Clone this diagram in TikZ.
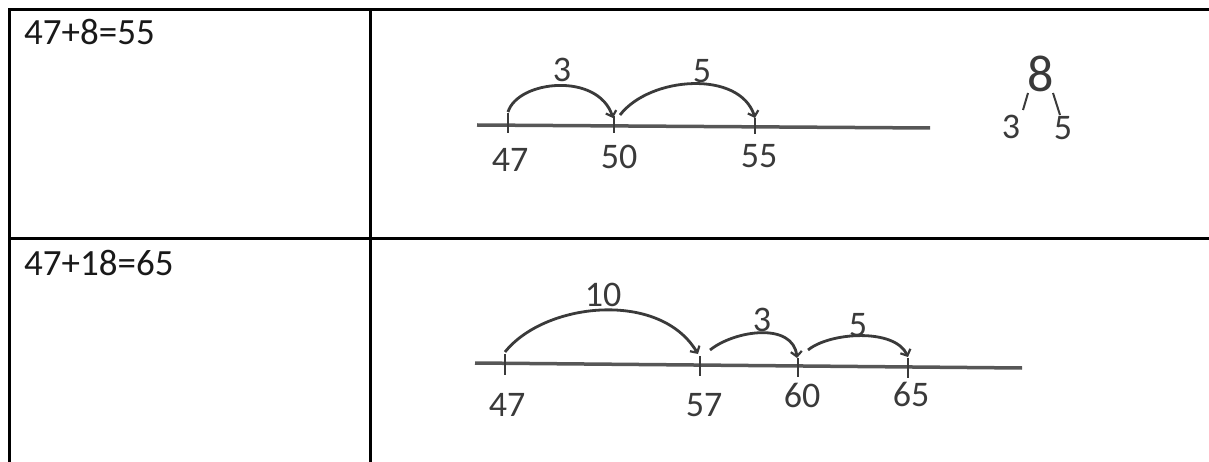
\documentclass[tikz,border=0pt]{standalone}
\usepackage{fontspec}
\setmainfont{Carlito}
\usetikzlibrary{arrows.meta}
\definecolor{pen}{HTML}{3A3A3A}
\begin{document}
\begin{tikzpicture}[x=1pt,y=-1pt,
  grid/.style={line width=3pt,black},
  eq/.style={anchor=base west,inner sep=0pt,font=\fontsize{37}{42}\selectfont,text=black!90},
  hand/.style={inner sep=0pt,font=\fontsize{36}{40}\selectfont,text=pen},
  axis/.style={line width=3.5pt,pen!85},
  tickmark/.style={line width=2pt,pen},
  jump/.style={line width=2.8pt,pen,-{Straight Barb[length=5pt,width=11pt,line width=2.2pt]}},
  bondline/.style={line width=2pt,pen}]
\useasboundingbox (0,0) rectangle (1209,462);

% table
\draw[grid] (8,10) -- (1209,10);
\draw[grid] (8,239) -- (1209,239);
\draw[grid] (9.5,8.5) -- (9.5,462);
\draw[grid] (370,8.5) -- (370,462);

\node[eq] (eq1) at (24,45) {47+8=55};
\node[eq] (eq2) at (24,275) {47+18=65};

% ---------- number line 1 ----------
\coordinate (A1) at (477,125);
\coordinate (B1) at (930,128);
\draw[axis] (A1) -- (B1);
\coordinate (t47a) at (508,113); \coordinate (t47b) at (508,133);
\coordinate (t50a) at (614,116); \coordinate (t50b) at (614,133);
\coordinate (t55a) at (755,118); \coordinate (t55b) at (755,134);
\draw[tickmark] (t47a) -- (t47b);
\draw[tickmark] (t50a) -- (t50b);
\draw[tickmark] (t55a) -- (t55b);

\coordinate (s1) at (508,112);
\coordinate (e1) at (613,118);
\coordinate (s2) at (620,115);
\coordinate (e2) at (755,118);
\draw[jump] (s1) .. controls (518,80) and (598,72) .. (e1);
\draw[jump] (s2) .. controls (650,76) and (740,70) .. (e2);

\node[hand] (j1) at (562,70) {3};
\node[hand] (j2) at (702,71) {5};
\node[hand] (n47a) at (510,160) {47};
\node[hand] (n50) at (619,157) {50};
\node[hand] (n55) at (759,156) {55};

% number bond
\node[hand,font=\fontsize{52}{56}\selectfont] (eight) at (1041,74) {8};
\node[hand] (bthree) at (1011,127) {3};
\node[hand] (bfive) at (1063,128) {5};
\coordinate (bl1) at (1028,93); \coordinate (bl2) at (1023,110);
\coordinate (br1) at (1053,93); \coordinate (br2) at (1060,115);
\draw[bondline] (bl1) -- (bl2);
\draw[bondline] (br1) -- (br2);

% ---------- number line 2 ----------
\coordinate (A2) at (475,363);
\coordinate (B2) at (1022,368);
\draw[axis] (A2) -- (B2);
\coordinate (u47a) at (505,354); \coordinate (u47b) at (505,375);
\coordinate (u57a) at (700,356); \coordinate (u57b) at (700,376);
\coordinate (u60a) at (798,358); \coordinate (u60b) at (798,377);
\coordinate (u65a) at (908,358); \coordinate (u65b) at (908,378);
\draw[tickmark] (u47a) -- (u47b);
\draw[tickmark] (u57a) -- (u57b);
\draw[tickmark] (u60a) -- (u60b);
\draw[tickmark] (u65a) -- (u65b);

\coordinate (p1) at (505,352);
\coordinate (q1) at (698,354);
\coordinate (p2) at (710,350);
\coordinate (q2) at (797,358);
\coordinate (p3) at (808,350);
\coordinate (q3) at (908,357);
\draw[jump] (p1) .. controls (545,302) and (660,290) .. (q1);
\draw[jump] (p2) .. controls (735,330) and (793,322) .. (q2);
\draw[jump] (p3) .. controls (830,332) and (895,328) .. (q3);

\node[hand] (k1) at (603,295) {10};
\node[hand] (k2) at (762,320) {3};
\node[hand] (k3) at (858,325) {5};
\node[hand] (m47) at (507,405) {47};
\node[hand] (m57) at (704,405) {57};
\node[hand] (m60) at (802,395) {60};
\node[hand] (m65) at (911,394) {65};
\end{tikzpicture}
\end{document}
